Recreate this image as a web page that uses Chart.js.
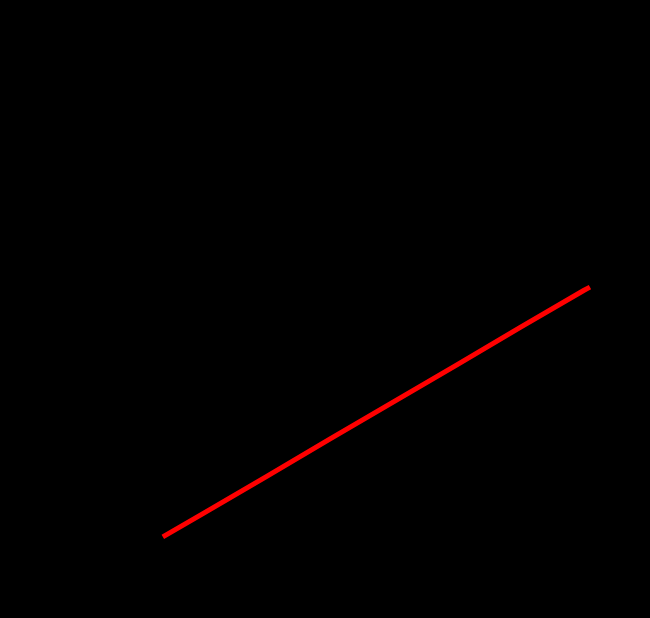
<!DOCTYPE html>
<html>
<head>
<meta charset="utf-8">
<script src="https://cdn.jsdelivr.net/npm/chart.js@4"></script>
<style>
    html, body { margin: 0; padding: 0; background: #000000; }
    #chart { display: block; }
</style>
</head>
<body>
<canvas id="chart" width="650" height="618"></canvas>
<script>
// ✅ 読み取った値（線の始点・目盛り線との交点・終点）
const xValues = [0.36, 1, 2, 3, 4, 5, 6, 7, 7.1];
const yValues = [0.77, 1.19, 1.85, 2.52, 3.18, 3.84, 4.51, 5.17, 5.23];

// ✅ 軸の範囲
const xMin = 0;
const xMax = 8;
const yMin = 0;
const yMax = 10;

const points = xValues.map((x, i) => ({ x: x, y: yValues[i] }));

new Chart(document.getElementById('chart'), {
    type: 'line',
    data: {
        datasets: [{
            data: points,
            borderColor: '#ff0000',
            backgroundColor: '#ff0000',
            borderWidth: 5,
            borderCapStyle: 'butt',
            pointRadius: 0,
            fill: false,
            tension: 0
        }]
    },
    options: {
        responsive: false,
        animation: false,
        layout: {
            padding: { left: 140, right: 3, top: 20, bottom: 38 }
        },
        plugins: {
            legend: { display: false },
            tooltip: { enabled: false }
        },
        scales: {
            x: {
                type: 'linear',
                min: xMin,
                max: xMax,
                z: 1, // 目盛り線を線の上に描く
                ticks: { display: false, stepSize: 1 },
                grid: { color: '#000000', lineWidth: 1, drawTicks: false },
                border: { display: false }
            },
            y: {
                type: 'linear',
                display: false,
                min: yMin,
                max: yMax
            }
        }
    }
});
</script>
</body>
</html>
